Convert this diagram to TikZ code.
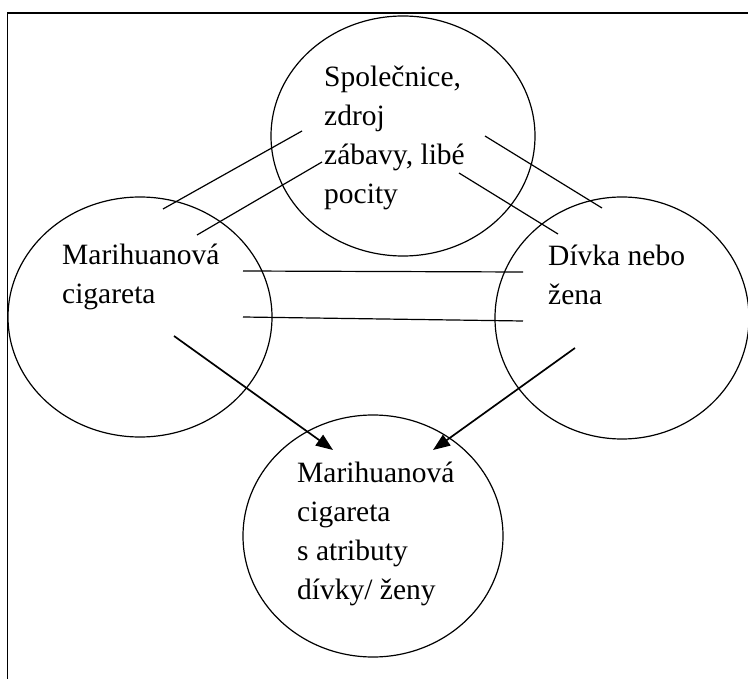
\documentclass[tikz,border=0pt]{standalone}
\usepackage{fontspec}
\setmainfont{Liberation Serif}
\usetikzlibrary{shapes.geometric,arrows.meta}
\tikzset{
  oval/.style={draw, ellipse, inner sep=0pt, line width=1.2pt},
  txt/.style={align=left, anchor=base west, inner sep=0pt, font=\fontsize{29.5}{39}\selectfont},
  link/.style={line width=1.2pt},
  arr/.style={line width=1.7pt, -{Triangle[length=17pt,width=13pt]}}
}
\begin{document}
\begin{tikzpicture}[x=1pt,y=-1pt]
\useasboundingbox (0,0) rectangle (748,679);
\clip (0,0) rectangle (748,679);
\draw[line width=1.3pt] (760,13) -- (7.5,13) -- (7.5,700);
\node[oval, minimum width=264pt, minimum height=240pt] (top) at (403,136) {};
\node[oval, minimum width=264pt, minimum height=240pt] (left) at (140,317) {};
\node[oval, minimum width=254pt, minimum height=242pt] (right) at (622,318) {};
\node[oval, minimum width=260pt, minimum height=242pt] (bottom) at (373,536) {};
% anchor is the baseline of the last line
\node[txt] (ttop) at (324,204) {Společnice,\\zdroj\\zábavy, libé\\pocity};
\node[txt] (tleft) at (62,304) {Marihuanová\\cigareta};
\node[txt] (tright) at (548,305) {Dívka nebo\\žena};
\node[txt] (tbottom) at (297,599) {Marihuanová\\cigareta\\s atributy\\dívky/ ženy};
\coordinate (a1) at (163,209); \coordinate (a2) at (302,131);
\coordinate (b1) at (197,235); \coordinate (b2) at (322,162);
\coordinate (c1) at (485,136); \coordinate (c2) at (602,208);
\coordinate (d1) at (459,173); \coordinate (d2) at (558,234);
\coordinate (e1) at (243,271); \coordinate (e2) at (523,272);
\coordinate (f1) at (243,317); \coordinate (f2) at (523,321);
\coordinate (g1) at (174,336); \coordinate (g2) at (333,450);
\coordinate (h1) at (575,348); \coordinate (h2) at (433,450);
\draw[link] (a1) -- (a2);
\draw[link] (b1) -- (b2);
\draw[link] (c1) -- (c2);
\draw[link] (d1) -- (d2);
\draw[link] (e1) -- (e2);
\draw[link] (f1) -- (f2);
\draw[arr] (g1) -- (g2);
\draw[arr] (h1) -- (h2);
\end{tikzpicture}
\end{document}
